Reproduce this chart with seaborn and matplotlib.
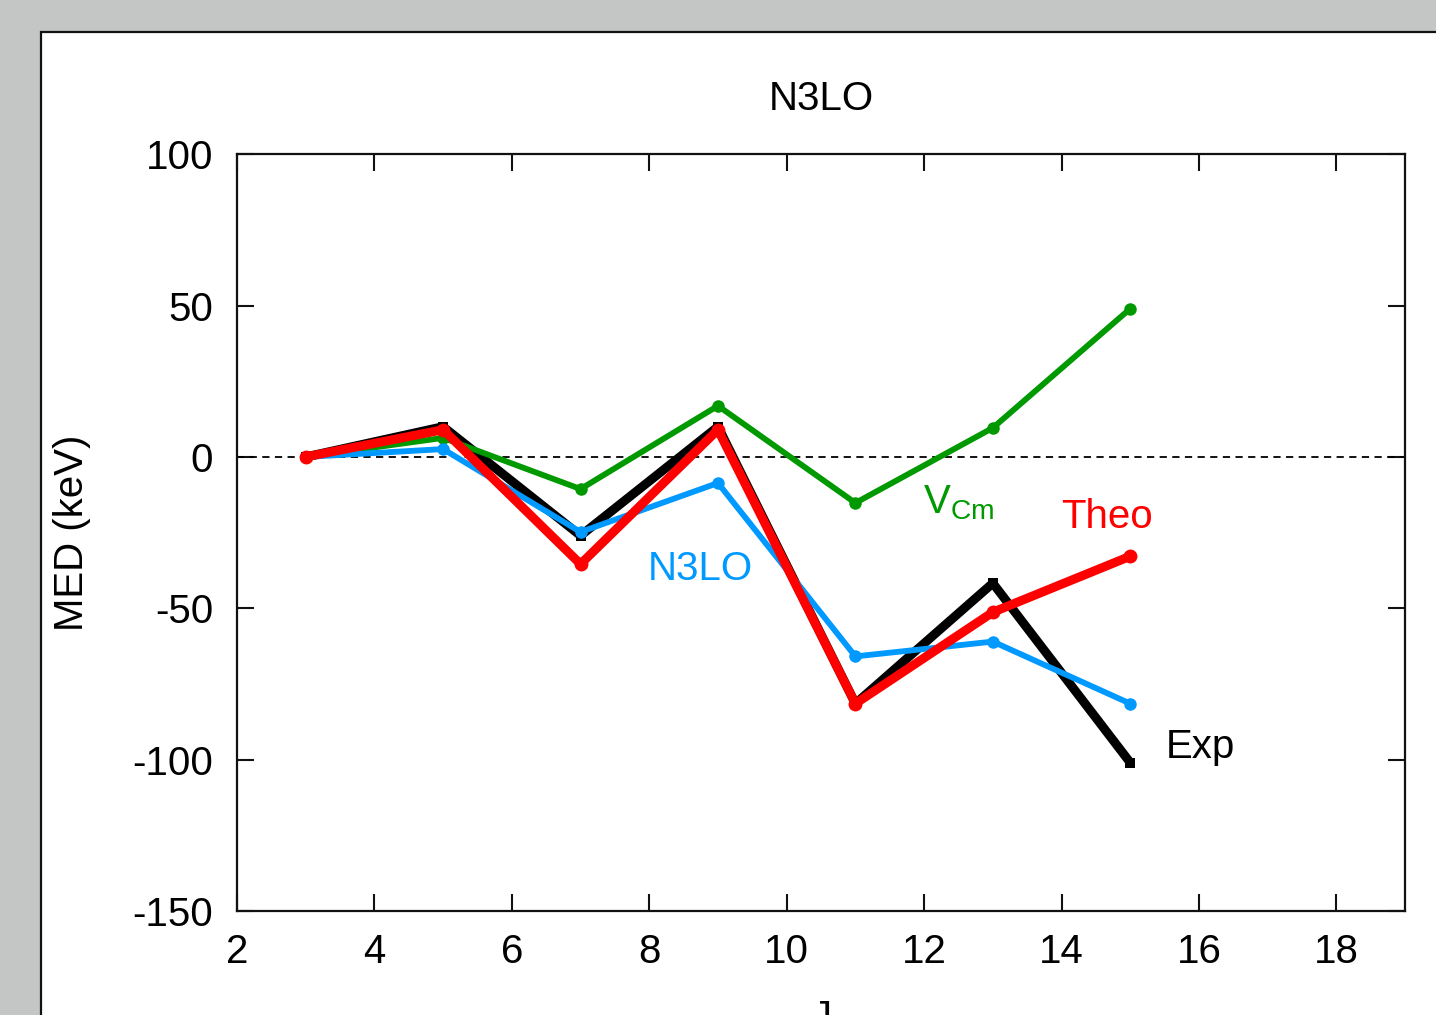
import pandas as pd
import matplotlib.pyplot as plt
import seaborn as sns
from matplotlib.patches import Rectangle

# values (MED in keV vs J)
J = [3, 5, 7, 9, 11, 13, 15]
exp_med = [0, 10, -26, 10, -81.5, -41.7, -101]
theo_med = [0, 9, -35.4, 9, -81.5, -51.3, -32.8]
n3lo_med = [0, 2.6, -24.8, -8.6, -65.9, -61, -81.5]
vcm_med = [0, 6.3, -10.6, 16.9, -15.2, 9.6, 49]

xticks = [2, 4, 6, 8, 10, 12, 14, 16, 18]
yticks = [-150, -100, -50, 0, 50, 100]

sns.set_style("ticks")
plt.rcParams['font.family'] = ['Liberation Sans', 'DejaVu Sans']
plt.rcParams['mathtext.fontset'] = 'custom'
plt.rcParams['mathtext.rm'] = 'Liberation Sans'
plt.rcParams['axes.unicode_minus'] = False
plt.rcParams['text.color'] = 'black'
plt.rcParams['axes.labelcolor'] = 'black'
plt.rcParams['xtick.labelcolor'] = 'black'
plt.rcParams['ytick.labelcolor'] = 'black'

df = pd.DataFrame({"J": J, "Exp": exp_med, "Theo": theo_med,
                   "N3LO": n3lo_med, "VCm": vcm_med})

fig = plt.figure(figsize=(14.36, 10.15), dpi=100)
fig.patch.set_facecolor('#c4c6c5')
# white panel with black frame, running off the right and bottom edges
fig.patches.append(Rectangle((0.0285, -0.1), 1.1, 1.0685, transform=fig.transFigure,
                             facecolor='white', edgecolor='#111111', linewidth=1.6, zorder=-5))

ax = fig.add_axes([0.165, 0.1025, 0.8135, 0.7455])
ax.set_facecolor('white')

ax.axhline(0, color='black', linestyle=(0, (4, 3)), linewidth=1.3, zorder=1)

sns.lineplot(data=df, x="J", y="Exp", ax=ax, color='black', linewidth=6.5,
             marker='s', markersize=7, markeredgewidth=0, zorder=2)
sns.lineplot(data=df, x="J", y="VCm", ax=ax, color='#009900', linewidth=4.2,
             marker='o', markersize=9, markeredgewidth=0, zorder=3)
sns.lineplot(data=df, x="J", y="N3LO", ax=ax, color='#0099ff', linewidth=4.2,
             marker='o', markersize=9, markeredgewidth=0, zorder=4)
sns.lineplot(data=df, x="J", y="Theo", ax=ax, color='#ff0000', linewidth=6.5,
             marker='o', markersize=10, markeredgewidth=0, zorder=5)

fs = 29
ax.text(8.74, -37, "N3LO", color='#0099ff', fontsize=fs, ha='center', va='center')
ax.text(11.98, -18.5, r"$\mathregular{V_{Cm}}$", color='#009900', fontsize=fs, ha='left', va='baseline')
ax.text(14.0, -20, "Theo", color='#ff0000', fontsize=fs, ha='left', va='center')
ax.text(15.52, -95.7, "Exp", color='black', fontsize=fs, ha='left', va='center')

ax.set_xlim(2, 19)
ax.set_ylim(-150, 100)
ax.set_xticks(xticks)
ax.set_yticks(yticks)
ax.tick_params(direction='in', length=12, width=1.5, top=True, right=True,
               labelsize=fs, pad=16, color='#111111')
ax.tick_params(axis='y', pad=17)
for s in ax.spines.values():
    s.set_linewidth(1.6)
    s.set_color('#111111')

ax.set_title("N3LO", fontsize=fs, pad=32)
ax.set_xlabel("J", fontsize=fs, labelpad=20)
ax.set_ylabel("MED (keV)", fontsize=fs, labelpad=30)

plt.savefig('out.png', dpi=100, facecolor=fig.get_facecolor())
